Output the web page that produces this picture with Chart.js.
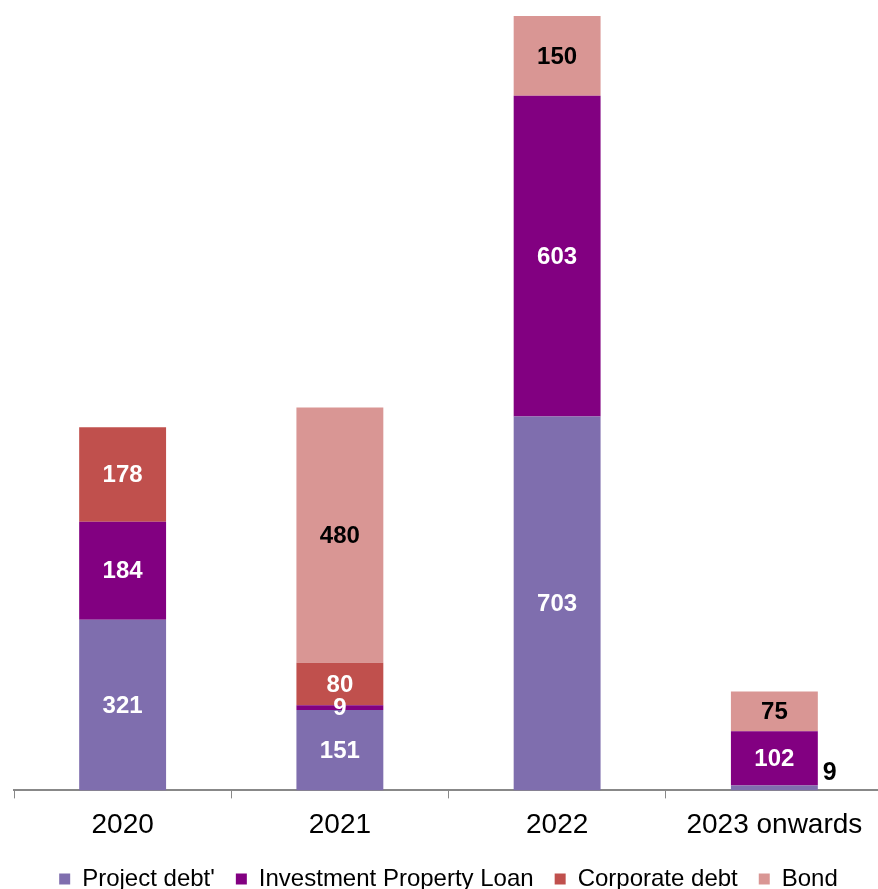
<!DOCTYPE html>
<html>
<head>
<meta charset="utf-8">
<script src="https://cdn.jsdelivr.net/npm/chart.js@4"></script>
<style>
  html,body{margin:0;padding:0;background:#fff;overflow:hidden;}
  canvas{display:block;}
</style>
</head>
<body>
<canvas id="debtChart" width="883" height="889"></canvas>
<script>
// categories and series
const years = ['2020', '2021', '2022', '2023 onwards'];
const projectDebt = [321, 151, 703, 9];
const propertyLoan = [184, 9, 603, 102];
const corporateDebt = [178, 80, null, null];
const bond = [null, 480, 150, 75];

const FONT = "'Liberation Sans', Arial, sans-serif";

// value labels inside each segment; tiny bars get theirs to the right
const segmentLabels = {
  id: 'segmentLabels',
  afterDatasetsDraw(chart) {
    const c = chart.ctx;
    c.save();
    c.textAlign = 'center';
    c.textBaseline = 'middle';
    chart.data.datasets.forEach((ds, di) => {
      const meta = chart.getDatasetMeta(di);
      meta.data.forEach((bar, i) => {
        const v = ds.data[i];
        if (v == null) return;
        const h = Math.abs(bar.base - bar.y);
        if (h < 8 && di === 0) {
          c.font = 'bold 25px ' + FONT;
          c.fillStyle = '#000';
          c.textAlign = 'left';
          c.fillText(v, bar.x + bar.width / 2 + 5, bar.y - 13);
          c.textAlign = 'center';
          return;
        }
        c.font = 'bold 24px ' + FONT;
        c.fillStyle = ds.labelColor;
        c.fillText(v, bar.x, (bar.y + bar.base) / 2 + 1);
      });
    });
    c.restore();
  }
};

new Chart(document.getElementById('debtChart'), {
  type: 'bar',
  data: {
    labels: years,
    datasets: [
      {label: "Project debt'", data: projectDebt, backgroundColor: '#7F6EAE', labelColor: '#fff'},
      {label: 'Investment Property Loan', data: propertyLoan, backgroundColor: '#820081', labelColor: '#fff'},
      {label: 'Corporate debt', data: corporateDebt, backgroundColor: '#C0504D', labelColor: '#fff'},
      {label: 'Bond', data: bond, backgroundColor: '#D99694', labelColor: '#000'}
    ]
  },
  options: {
    responsive: false,
    animation: false,
    datasets: {bar: {barPercentage: 0.4, categoryPercentage: 1, borderWidth: 0}},
    layout: {padding: {top: 16, left: 14, right: 0, bottom: -12}},
    scales: {
      x: {
        stacked: true,
        grid: {drawOnChartArea: false, drawTicks: true, tickLength: 8, color: '#888'},
        border: {color: '#888', width: 2},
        ticks: {color: '#000', font: {family: FONT, size: 28}, padding: 10},
        afterFit(scale) { scale.height -= 6; }
      },
      y: {stacked: true, display: false, min: 0, max: 1456}
    },
    plugins: {
      tooltip: {enabled: false},
      legend: {
        position: 'bottom',
        labels: {
          color: '#000',
          font: {family: FONT, size: 24},
          boxWidth: 11,
          boxHeight: 11,
          padding: 21
        }
      }
    }
  },
  plugins: [segmentLabels]
});
</script>
</body>
</html>
